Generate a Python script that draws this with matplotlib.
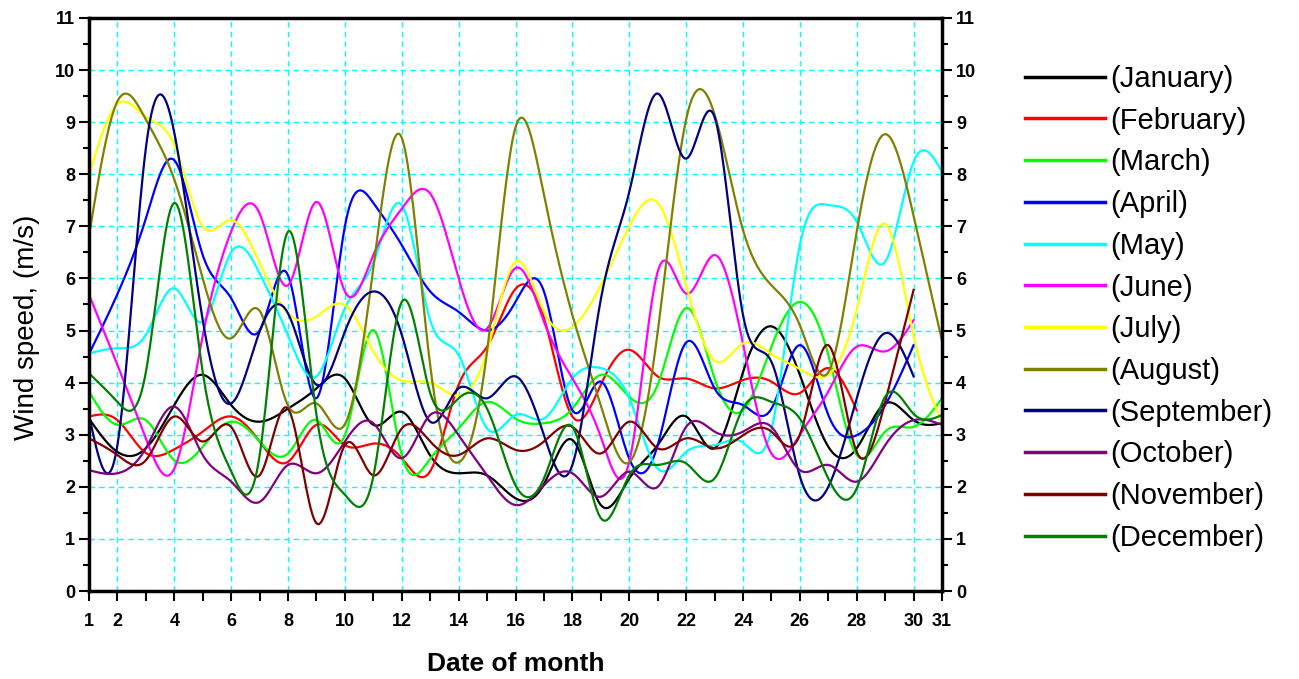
import numpy as np
import matplotlib
matplotlib.use('Agg')
import matplotlib.pyplot as plt

plt.rcParams['font.family'] = ['Liberation Sans', 'DejaVu Sans']

# Daily mean wind speed (m/s) for each month
january = [3.31, 2.67, 2.74, 3.57, 4.15, 3.57, 3.25, 3.50, 3.89, 4.08, 3.19, 3.44, 2.60, 2.26, 2.22, 1.78,
           2.05, 2.90, 1.65, 2.16, 2.80, 3.35, 2.74, 4.20, 5.08, 4.15, 2.77, 2.74, 3.60, 3.28, 3.22]
february = [3.35, 3.28, 2.65, 2.72, 3.06, 3.35, 2.87, 2.48, 3.19, 2.80, 2.83, 2.55, 2.30, 3.96, 4.69, 5.80,
            5.24, 3.35, 3.96, 4.63, 4.12, 4.08, 3.89, 4.05, 4.02, 3.80, 4.28, 3.47]
march = [3.83, 3.19, 3.28, 2.51, 2.77, 3.25, 2.87, 2.64, 3.28, 2.99, 5.01, 2.61, 2.54, 3.12, 3.63, 3.31,
         3.22, 3.50, 4.15, 3.73, 3.96, 5.43, 4.08, 3.47, 4.69, 5.55, 4.53, 2.61, 3.06, 3.15, 3.70]
april = [4.55, 5.70, 7.15, 8.27, 6.45, 5.62, 5.00, 6.06, 3.70, 7.00, 7.45, 6.64, 5.75, 5.36, 5.00, 5.55,
         5.75, 3.47, 4.02, 2.54, 2.80, 4.77, 3.89, 3.57, 3.50, 4.72, 3.38, 2.99, 3.57, 4.72]
may = [4.56, 4.66, 4.92, 5.81, 5.17, 6.50, 6.10, 4.90, 4.12, 5.43, 6.30, 7.41, 5.20, 4.53, 3.12, 3.38,
       3.31, 4.08, 4.28, 3.70, 2.35, 2.67, 2.80, 2.85, 3.10, 6.64, 7.41, 7.09, 6.32, 8.24, 8.05]
june = [5.69, 4.34, 2.93, 2.35, 4.90, 6.90, 7.25, 5.87, 7.47, 5.75, 6.45, 7.34, 7.63, 6.00, 5.04, 6.20,
        5.17, 4.08, 2.96, 2.48, 6.13, 5.71, 6.45, 4.75, 2.64, 3.00, 3.83, 4.69, 4.60, 5.20]
july = [7.98, 9.35, 9.10, 8.56, 7.00, 7.12, 6.30, 5.33, 5.27, 5.49, 4.60, 4.04, 4.00, 3.75, 4.60, 6.32,
        5.36, 5.07, 5.87, 7.00, 7.45, 5.87, 4.42, 4.75, 4.55, 4.26, 4.15, 5.40, 7.05, 4.90, 3.24]
august = [6.82, 9.40, 9.05, 7.90, 6.00, 4.85, 5.38, 3.56, 3.60, 3.20, 6.20, 8.70, 4.33, 2.47, 4.60, 8.90,
          7.60, 5.30, 3.56, 2.47, 4.97, 9.05, 9.15, 6.93, 5.87, 5.10, 4.20, 6.90, 8.77, 7.20, 4.80]
september = [3.38, 2.80, 8.50, 8.80, 5.20, 3.60, 4.98, 5.33, 3.96, 4.98, 5.75, 4.92, 3.25, 3.89, 3.70, 4.12,
             2.99, 2.42, 5.60, 7.66, 9.55, 8.30, 9.10, 5.30, 4.40, 2.20, 2.00, 3.70, 4.95, 4.12]
october = [2.32, 2.26, 2.74, 3.54, 2.61, 2.10, 1.71, 2.42, 2.26, 2.87, 3.22, 2.55, 3.38, 2.99, 2.22, 1.65,
           2.03, 2.26, 1.81, 2.29, 2.00, 3.15, 3.06, 3.06, 3.15, 2.32, 2.42, 2.10, 2.80, 3.28, 3.19]
november = [2.93, 2.61, 2.51, 3.35, 2.87, 3.15, 2.22, 3.50, 1.30, 2.80, 2.22, 3.12, 2.87, 2.61, 2.93, 2.71,
            2.87, 3.15, 2.64, 3.25, 2.74, 2.93, 2.74, 2.99, 3.06, 3.00, 4.72, 2.67, 3.63, 5.78]
december = [4.18, 3.63, 4.20, 7.45, 4.20, 2.30, 2.60, 6.90, 3.38, 1.85, 2.20, 5.55, 3.80, 3.70, 3.50, 2.03,
            2.16, 3.15, 1.40, 2.22, 2.42, 2.45, 2.16, 3.51, 3.63, 3.31, 2.16, 1.97, 3.73, 3.40, 3.38]

months = ['(January)', '(February)', '(March)', '(April)', '(May)', '(June)', '(July)',
          '(August)', '(September)', '(October)', '(November)', '(December)']
series = [january, february, march, april, may, june, july, august, september, october, november, december]
colors = ['#000000', '#ff0000', '#00ff00', '#0000ff', '#00ffff', '#ff00ff', '#ffff00',
          '#808000', '#000080', '#800080', '#800000', '#008000']

days = list(range(1, 32))
day_labels = [str(d) if (d in (1, 31) or d % 2 == 0) else '' for d in days]


def smooth(values, steps=20):
    # natural cubic spline through the daily points
    y = np.asarray(values, dtype=float)
    n = len(y)
    x = np.arange(1, n + 1)
    A = np.zeros((n, n))
    b = np.zeros(n)
    A[0, 0] = A[-1, -1] = 1
    for i in range(1, n - 1):
        A[i, i - 1], A[i, i], A[i, i + 1] = 1, 4, 1
        b[i] = 6 * (y[i + 1] - 2 * y[i] + y[i - 1])
    M = np.linalg.solve(A, b)
    xs = np.linspace(1, n, (n - 1) * steps + 1)
    i = np.clip(np.floor(xs - 1).astype(int), 0, n - 2)
    t = xs - x[i]
    ys = (M[i] * (1 - t) ** 3 / 6 + M[i + 1] * t ** 3 / 6
          + (y[i] - M[i] / 6) * (1 - t) + (y[i + 1] - M[i + 1] / 6) * t)
    return xs, ys


fig = plt.figure(figsize=(12.99, 6.79), dpi=100)
ax = fig.add_axes([0.0685, 0.1296, 0.6567, 0.8439])

for name, vals, c in zip(months, series, colors):
    xs, ys = smooth(vals)
    ax.plot(xs, ys, color=c, lw=1.6, label=name)

ax.set_xlim(1, 31)
ax.set_ylim(0, 11)

# grid: dashed cyan, vertical lines on even days only
for d in range(2, 31, 2):
    ax.axvline(d, color='#00ffff', ls=(0, (4, 3)), lw=1.0, zorder=0)
for v in range(1, 11):
    ax.axhline(v, color='#00ffff', ls=(0, (4, 3)), lw=1.0, zorder=0)

ax.set_xticks(days)
ax.set_xticklabels(day_labels)
ax.set_yticks(range(0, 12))
ax.set_yticks(np.arange(0.5, 11, 1), minor=True)
ax.tick_params(axis='both', which='both', direction='out', width=1.5)
ax.tick_params(axis='x', which='major', length=7, pad=9)
ax.tick_params(axis='y', which='major', length=7, right=True, labelright=True, pad=3)
ax.tick_params(axis='y', which='minor', length=4, right=True)
for lab in ax.get_xticklabels():
    lab.set_fontsize(13)
    lab.set_fontweight('bold')
for t in ax.yaxis.get_major_ticks():
    for lab in (t.label1, t.label2):
        lab.set_fontsize(13)
        lab.set_fontweight('bold')

for sp in ax.spines.values():
    sp.set_linewidth(2.5)

ax.set_xlabel('Date of month', fontsize=19, fontweight='bold', labelpad=16)
ax.set_ylabel('Wind speed, (m/s)', fontsize=20)
ax.yaxis.set_label_coords(-0.057, 0.46)

ax.legend(loc='upper left', bbox_to_anchor=(1025 / 1299, 1 - 65 / 679), bbox_transform=fig.transFigure,
          frameon=False, fontsize=21, handlelength=2.75, handletextpad=0.17, labelspacing=0.47,
          borderpad=0, borderaxespad=0)
for line in ax.get_legend().get_lines():
    line.set_linewidth(2.5)

fig.savefig('out.png', dpi=100)
